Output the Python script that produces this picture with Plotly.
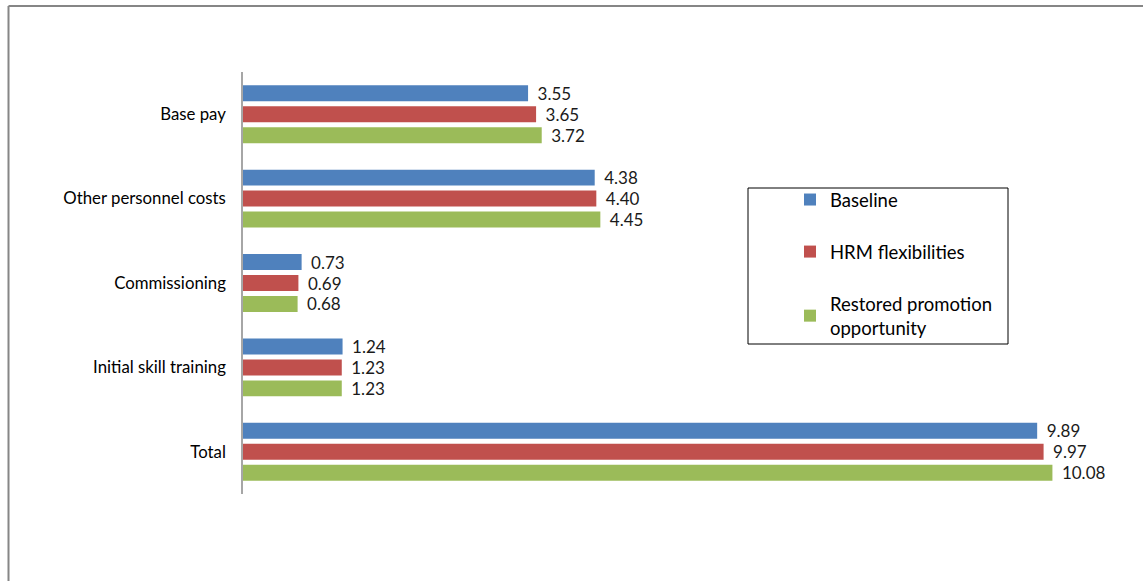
import plotly.graph_objects as go

# Cost categories (top to bottom) and values for each scenario
categories = ["Base pay", "Other personnel costs", "Commissioning",
              "Initial skill training", "Total"]
baseline = [3.55, 4.38, 0.73, 1.24, 9.89]
hrm_flex = [3.65, 4.40, 0.69, 1.23, 9.97]
restored = [3.72, 4.45, 0.68, 1.23, 10.08]

series_names = ["Baseline", "HRM flexibilities",
                "Restored promotion<br>opportunity"]
series_values = [baseline, hrm_flex, restored]
series_colors = ["#4F81BD", "#C0504D", "#9BBB59"]

FONT = "Lato, 'Open Sans', sans-serif"

W, H = 1143, 581
ML, MR, MT, MB = 243, 43, 72, 87
plot_w = W - ML - MR
plot_h = H - MT - MB


def px_x(p):
    return (p - ML) / plot_w


def px_y(p):
    return 1 - (p - MT) / plot_h


fig = go.Figure()
for name, vals, col in zip(series_names, series_values, series_colors):
    fig.add_trace(go.Bar(
        y=categories, x=vals, name=name, orientation="h",
        marker=dict(color=col, line=dict(width=0)),
        text=[f"{v:.2f}" for v in vals],
        texttemplate="\u2009 %{text}",
        textposition="outside", cliponaxis=False, constraintext="none",
        textfont=dict(family=FONT, size=17, color="#1a1a1a"),
        legendgroup=name,
    ))

fig.update_layout(
    width=W, height=H,
    margin=dict(l=ML, r=MR, t=MT, b=MB),
    paper_bgcolor="white", plot_bgcolor="white",
    barmode="group", bargap=0.254, bargroupgap=0.24,
    font=dict(family=FONT, size=16, color="#000000"),
    showlegend=True,
    legend=dict(
        x=px_x(790), y=px_y(181), xanchor="left", yanchor="top",
        bgcolor="rgba(0,0,0,0)", borderwidth=0,
        tracegroupgap=25, traceorder="grouped",
        font=dict(family=FONT, size=18.5, color="#000000"),
    ),
    xaxis=dict(visible=False, range=[0, plot_w / 80.3], showgrid=False,
               zeroline=False),
    yaxis=dict(categoryorder="array", categoryarray=categories,
               autorange="reversed", showline=True, linecolor="#A6A6A6",
               linewidth=1.5, ticks="", showgrid=False,
               ticklabelstandoff=12,
               tickfont=dict(family=FONT, size=16.8, color="#000000")),
    shapes=[
        # outer chart frame (left and top edges)
        dict(type="line", xref="paper", yref="paper",
             x0=px_x(8.5), x1=px_x(8.5), y0=px_y(6), y1=px_y(600),
             line=dict(color="#868686", width=2)),
        dict(type="line", xref="paper", yref="paper",
             x0=px_x(8.5), x1=px_x(1160), y0=px_y(6), y1=px_y(6),
             line=dict(color="#868686", width=2)),
        # legend box
        dict(type="rect", xref="paper", yref="paper",
             x0=px_x(748), x1=px_x(1008), y0=px_y(188), y1=px_y(344),
             line=dict(color="#000000", width=1)),
    ],
)

fig.write_html("out.html")
